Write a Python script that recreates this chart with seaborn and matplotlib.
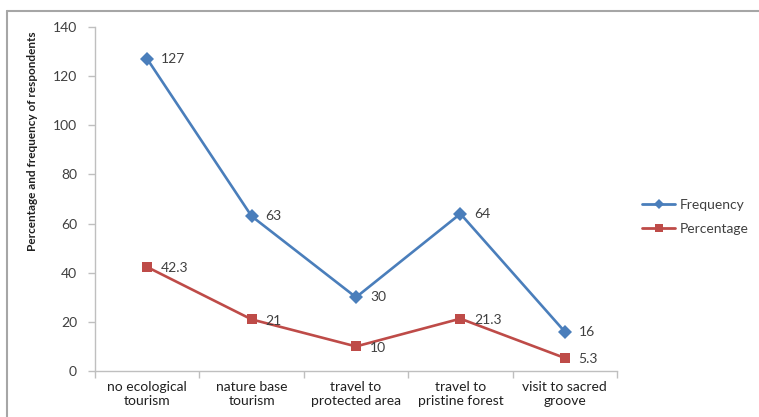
import matplotlib
matplotlib.use("Agg")
import matplotlib.pyplot as plt
from matplotlib.lines import Line2D
import seaborn as sns
import pandas as pd

categories = ["no ecological\ntourism", "nature base\ntourism", "travel to\nprotected area",
              "travel to\npristine forest", "visit to sacred\ngroove"]
frequency = [127, 63, 30, 64, 16]
percentage = [42.3, 21, 10, 21.3, 5.3]
freq_labels = ["127", "63", "30", "64", "16"]
pct_labels = ["42.3", "21", "10", "21.3", "5.3"]
y_ticks = [0, 20, 40, 60, 80, 100, 120, 140]

BLUE = "#4A7EBB"
RED = "#BE4B48"
GRID = "#BFBFBF"
TEXT = "#404040"

sns.set_theme(style="white")
plt.rcParams["font.family"] = ["Lato", "DejaVu Sans"]

df = pd.DataFrame({
    "pos": list(range(len(categories))) * 2,
    "value": frequency + percentage,
    "series": ["Frequency"] * len(categories) + ["Percentage"] * len(categories),
})

W, H = 759, 417
fig = plt.figure(figsize=(W / 100, H / 100), dpi=100)
ax = fig.add_axes([95 / W, 1 - 371 / H, 522 / W, 344 / H])

sns.lineplot(data=df, x="pos", y="value", hue="series", style="series",
             markers={"Frequency": "D", "Percentage": "s"}, dashes=False,
             palette={"Frequency": BLUE, "Percentage": RED},
             linewidth=1.9, markersize=7.5, markeredgewidth=0, ax=ax, legend=False)

for i, (v, t) in enumerate(zip(frequency, freq_labels)):
    ax.annotate(t, (i, v), xytext=(10, 0), textcoords="offset points",
                va="center", ha="left", fontsize=10, color=TEXT)
for i, (v, t) in enumerate(zip(percentage, pct_labels)):
    ax.annotate(t, (i, v), xytext=(10, -1), textcoords="offset points",
                va="center", ha="left", fontsize=10, color=TEXT)

ax.set_xlim(-0.5, len(categories) - 0.5)
ax.set_ylim(0, 140)
ax.set_yticks(y_ticks)
ax.set_yticklabels([str(t) for t in y_ticks], fontsize=10, color=TEXT)
ax.set_xticks(range(len(categories)))
ax.set_xticklabels(categories, fontsize=10, color="#202020", linespacing=1.25)
ax.set_xticks([k + 0.5 for k in range(-1, len(categories))], minor=True)
ax.tick_params(axis="x", which="major", length=0, pad=7)
ax.tick_params(axis="x", which="minor", length=5, color=GRID, width=1, direction="out", bottom=True)
ax.tick_params(axis="y", length=5, color=GRID, width=1, direction="out", left=True, pad=8)
ax.set_xlabel("")
ax.set_ylabel("Percentage and frequency of respondents", fontsize=8.5,
              fontweight="bold", color="#202020")
ax.yaxis.set_label_coords(-57 / 522, (371 - 141) / 344)

for side in ["top", "right"]:
    ax.spines[side].set_visible(False)
for side in ["left", "bottom"]:
    ax.spines[side].set_color(GRID)
    ax.spines[side].set_linewidth(1)

handles = [
    Line2D([], [], color=BLUE, marker="D", markersize=5, linewidth=2, markeredgewidth=0),
    Line2D([], [], color=RED, marker="s", markersize=6, linewidth=2, markeredgewidth=0),
]
fig.legend(handles, ["Frequency", "Percentage"], loc="center left",
           bbox_to_anchor=(642 / W, 1 - 217 / H), frameon=False,
           fontsize=10, handlelength=2.4, handletextpad=0.3, labelspacing=0.85,
           labelcolor=TEXT, borderaxespad=0, borderpad=0)

# outer chart frame (top and left edges)
fig.add_artist(Line2D([7 / W, 7 / W], [0, 1 - 11 / H],
                      transform=fig.transFigure, color="#A6A6A6", linewidth=1.5))
fig.add_artist(Line2D([7 / W, 1], [1 - 11 / H, 1 - 11 / H],
                      transform=fig.transFigure, color="#A6A6A6", linewidth=1.5))

fig.savefig("out.png", dpi=100)
